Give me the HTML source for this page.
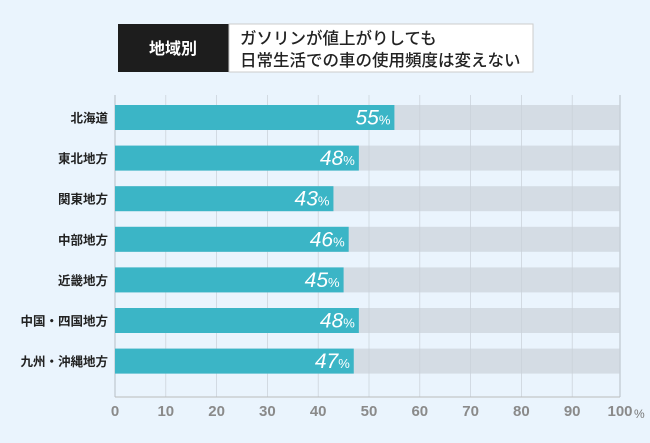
<!DOCTYPE html>
<html><head><meta charset="utf-8"><style>
body{margin:0;width:650px;height:438px;background:#eaf4fd;font-family:"Liberation Sans","Noto Sans CJK JP",sans-serif;overflow:hidden}
</style></head><body>
<svg id="c" width="650" height="438">
<rect x="118" y="24" width="111" height="48" fill="#1d1d1d"/>
<text x="173" y="54" fill="#fff" font-size="16" font-weight="bold" text-anchor="middle">地域別</text>
<rect x="229" y="24" width="304" height="48" fill="#fff" stroke="#ccc"/>
<text x="240" y="44" fill="#222" font-size="16.5" font-weight="500">ガソリンが値上がりしても</text>
<text x="240" y="66" fill="#222" font-size="16.5" font-weight="500">日常生活での車の使用頻度は変えない</text>
</svg>
<script>
const categories=["北海道","東北地方","関東地方","中部地方","近畿地方","中国・四国地方","九州・沖縄地方"];
const values=[55,48,43,46,45,48,47];
const ticks=[0,10,20,30,40,50,60,70,80,90,100];
const svg=document.getElementById('c');const NS='http://www.w3.org/2000/svg';
const x0=115,x1=620,scaleW=508,plotTop=95,plotBottom=397,rowH=40.6,firstC=117.5,barH=25;
const X=v=>x0+scaleW*v/100;const Y=i=>firstC+i*rowH;
function mk(t,a,txt){const e=document.createElementNS(NS,t);for(const k in a)e.setAttribute(k,a[k]);if(txt!=null)e.textContent=txt;svg.appendChild(e);return e;}
categories.forEach((c,i)=>{
 const bg=mk('rect',{x:x0,y:Y(i)-barH/2,width:x1-x0,height:barH,fill:'#d4dce4'});
 
 
});
ticks.forEach(t=>{
 const xx=t==100?x1:X(t);
 const l=mk('line',{x1:xx,x2:xx,y1:plotTop,y2:plotBottom,stroke:'#c8d0d8','stroke-width':(t==0||t==100)?1.5:0.7});
 
 
 const tx=mk('text',{x:xx,y:416,'font-size':15,fill:'#8a8a8a','font-weight':'bold','text-anchor':'middle'},t);
 
 
});
mk('line',{x1:x0,x2:x1,y1:plotBottom,y2:plotBottom,stroke:'#bbb'});
const pc=mk('text',{x:x1+14,y:418,'font-size':12,fill:'#777'},'%');


categories.forEach((c,i)=>{
 const b=mk('rect',{x:x0,y:Y(i)-barH/2,width:X(values[i])-x0,height:barH,fill:'#3bb5c6'});
 
 
 const lb=mk('text',{x:108,y:Y(i)+5,'font-size':12.5,'font-weight':'bold',fill:'#222','text-anchor':'end'},c);
 
 
 const v=mk('text',{x:X(values[i])-4,y:Y(i)+7,fill:'#fff','text-anchor':'end','font-style':'italic'});
 
 
 const s1=document.createElementNS(NS,'tspan');s1.setAttribute('font-size','21');s1.textContent=values[i];v.appendChild(s1);
 const s2=document.createElementNS(NS,'tspan');s2.setAttribute('font-size','13');s2.setAttribute('font-style','normal');s2.textContent='%';v.appendChild(s2);
});
</script>
</body></html>
